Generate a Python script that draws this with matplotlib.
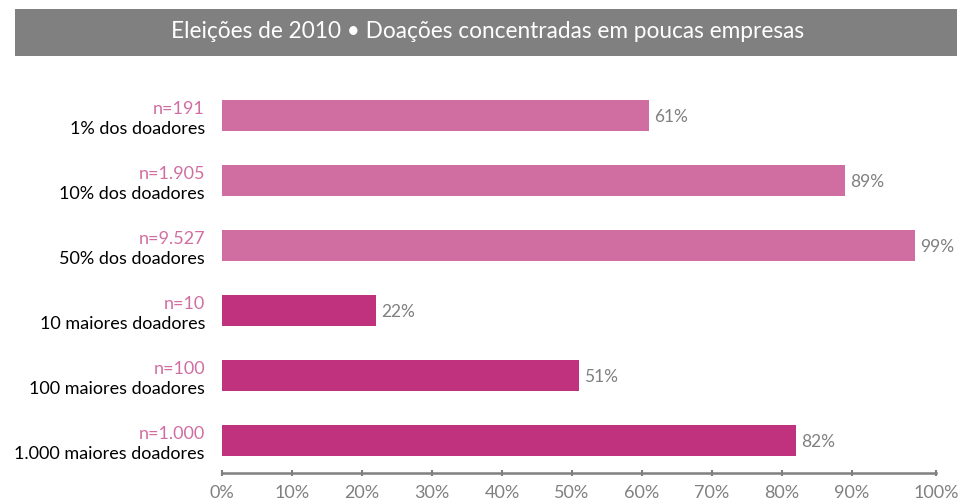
import matplotlib

matplotlib.use("Agg")
import matplotlib.pyplot as plt
from matplotlib.patches import Rectangle
import numpy as np

plt.rcParams["font.family"] = ["Lato", "DejaVu Sans"]

TITLE = "Eleições de 2010 • Doações concentradas em poucas empresas"
groups = [
    "1% dos doadores",
    "10% dos doadores",
    "50% dos doadores",
    "10 maiores doadores",
    "100 maiores doadores",
    "1.000 maiores doadores",
]
counts = ["n=191", "n=1.905", "n=9.527", "n=10", "n=100", "n=1.000"]
shares = [61, 89, 99, 22, 51, 82]
tick_values = [0, 10, 20, 30, 40, 50, 60, 70, 80, 90, 102]
tick_labels = ["0%", "10%", "20%", "30%", "40%", "50%", "60%", "70%", "80%", "90%", "100%"]

LIGHT = "#d16ea1"
DARK = "#c0317e"
GREY = "#808080"
bar_colors = [LIGHT, LIGHT, LIGHT, DARK, DARK, DARK]

fig = plt.figure(figsize=(9.61, 5.0), dpi=100)

# title band
fig.patches.append(
    Rectangle((15 / 961, 1 - 56 / 500), 942 / 961, 47 / 500,
              transform=fig.transFigure, facecolor="#808080", edgecolor="none")
)
fig.text(488 / 961, 1 - 32 / 500, TITLE, color="white", fontsize=16.3,
         ha="center", va="center")

ax = fig.add_axes([222 / 961, 27 / 500, 714 / 961, 390 / 500])
y = np.arange(len(groups))
ax.barh(y, shares, height=0.48, color=bar_colors)

ax.set_xlim(0, 102)
ax.set_ylim(len(groups) - 0.5, -0.5)

for yi, value, count, group in zip(y, shares, counts, groups):
    ax.annotate(f"{value}%", (value, yi), xytext=(5, -2), textcoords="offset pixels",
                color=GREY, fontsize=12.5, ha="left", va="center")
    ax.annotate(count, (0, yi), xycoords=("axes fraction", "data"),
                xytext=(-17, 6), textcoords="offset pixels",
                color=LIGHT, fontsize=13, ha="right", va="center")
    ax.annotate(group, (0, yi), xycoords=("axes fraction", "data"),
                xytext=(-17, -14), textcoords="offset pixels",
                color="black", fontsize=13, ha="right", va="center")

ax.set_xticks(tick_values)
ax.set_xticklabels(tick_labels)
ax.set_yticks([])
ax.tick_params(axis="x", colors=GREY, labelsize=13, length=5, width=1.5,
               direction="inout", pad=6)

for side in ["top", "right", "left"]:
    ax.spines[side].set_visible(False)
ax.spines["bottom"].set_color(GREY)
ax.spines["bottom"].set_linewidth(1.8)

fig.savefig("out.png", dpi=100)
